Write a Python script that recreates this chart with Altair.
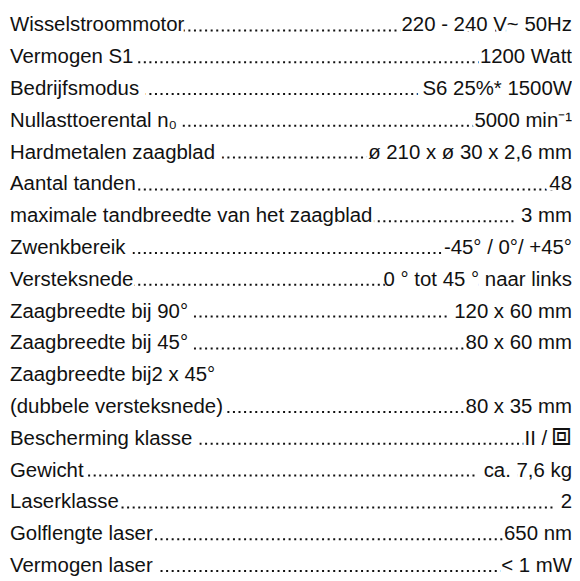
import altair as alt
import pandas as pd

labels = [
    "Wisselstroommotor",
    "Vermogen S1",
    "Bedrijfsmodus",
    "Nullasttoerental n₀",
    "Hardmetalen zaagblad",
    "Aantal tanden",
    "maximale tandbreedte van het zaagblad",
    "Zwenkbereik",
    "Versteksnede",
    "Zaagbreedte bij 90°",
    "Zaagbreedte bij 45°",
    "Zaagbreedte bij2 x 45°",
    "(dubbele versteksnede)",
    "Bescherming klasse",
    "Gewicht",
    "Laserklasse",
    "Golflengte laser",
    "Vermogen laser",
]
values = [
    "220 - 240 V~ 50Hz",
    "1200 Watt",
    "S6 25%* 1500W",
    "5000 min⁻¹",
    "ø 210 x ø 30 x 2,6 mm",
    "48",
    "3 mm",
    "-45° / 0°/ +45°",
    "0 ° tot 45 ° naar links",
    "120 x 60 mm",
    "80 x 60 mm",
    "",
    "80 x 35 mm",
    "II / ⧈",
    "ca. 7,6 kg",
    "2",
    "650 nm",
    "< 1 mW",
]
gap_left = [0, 0, 1, 0, 1, 0, 0, 1, 0, 1, 1, 0, 0, 1, 0, 0, 0, 1]
gap_right = [0, 0, 1, 0, 0, 0, 1, 1, 0, 1, 0, 0, 0, 0, 1, 1, 0, 0]
dotted = [1] * 11 + [0] + [1] * 6

SYMBOL = "⧈"

# glyphs of about the same advance that reach the baseline, for the white mask
MASK_MAP = {" ": "I", "-": "r", "~": "n", "°": "r", "*": "r", "⁻": "r", "¹": "r",
            "%": "m", "/": "I", "<": "n", "+": "n", "₀": "o"}


def masked(s):
    return "".join(MASK_MAP.get(c, c) for c in s)


value_main = [v.replace(" " + SYMBOL, "") for v in values]
symbols = [SYMBOL if SYMBOL in v else "" for v in values]

df = pd.DataFrame({
    "row": list(range(len(labels))),
    "label": labels,
    "value": value_main,
    "symbol": symbols,
    "lmask": [masked(l) + ("I" if g else "") for l, g in zip(labels, gap_left)],
    "rmask": [("I" if g else "") + masked(v) for v, g in zip(value_main, gap_right)],
    "dotted": dotted,
    "left": 0,
    "right": 1,
    "dotstart": 0.03,
    "dotend": 0.99,
})

FONT = "Liberation Sans"
SIZE = 20.5
INK = "#111111"
SYM_SIZE = 33
SYM_SHIFT = -25

xscale = alt.Scale(domain=[0, 1], range=[2, 567])
yscale = alt.Scale(domain=[0, 17], range=[22, 565.5])

base = alt.Chart(df).encode(y=alt.Y("row:Q", scale=yscale, axis=None))
X_L = alt.X("left:Q", scale=xscale, axis=None)
X_R = alt.X("right:Q", scale=xscale, axis=None)

dots = base.transform_filter("datum.dotted == 1").mark_rule(
    strokeDash=[2, 3.6], strokeWidth=2, color=INK
).encode(x=alt.X("dotstart:Q", scale=xscale, axis=None), x2="dotend:Q",
         yOffset=alt.value(-1))

txt = dict(baseline="alphabetic", font=FONT, fontSize=SIZE)
msk = dict(fill="white", stroke="white", strokeWidth=6)

plain = base.transform_filter("datum.symbol == ''")
withsym = base.transform_filter("datum.symbol != ''")

mask_l = base.mark_text(align="left", **msk, **txt).encode(x=X_L, text="lmask:N")
mask_r = plain.mark_text(align="right", **msk, **txt).encode(x=X_R, text="rmask:N")
mask_r2 = withsym.mark_text(align="right", dx=SYM_SHIFT, **msk, **txt).encode(
    x=X_R, text="rmask:N")
mask_s = withsym.mark_text(align="right", baseline="alphabetic", font="DejaVu Sans",
                           fontSize=SYM_SIZE, **msk).encode(x=X_R, text="symbol:N")

lab = base.mark_text(align="left", fill=INK, **txt).encode(x=X_L, text="label:N")
val = plain.mark_text(align="right", fill=INK, **txt).encode(x=X_R, text="value:N")
val2 = withsym.mark_text(align="right", dx=SYM_SHIFT, fill=INK, **txt).encode(
    x=X_R, text="value:N")
sym = withsym.mark_text(align="right", baseline="alphabetic", font="DejaVu Sans",
                        fontSize=SYM_SIZE, fill=INK).encode(x=X_R, text="symbol:N")

chart = alt.layer(dots, mask_l, mask_r, mask_r2, mask_s, lab, val, val2, sym).properties(
    width=567, height=571, autosize="none", padding=0
).configure_view(stroke=None)

chart.save("out.html", embed_options={"renderer": "svg", "actions": False})
